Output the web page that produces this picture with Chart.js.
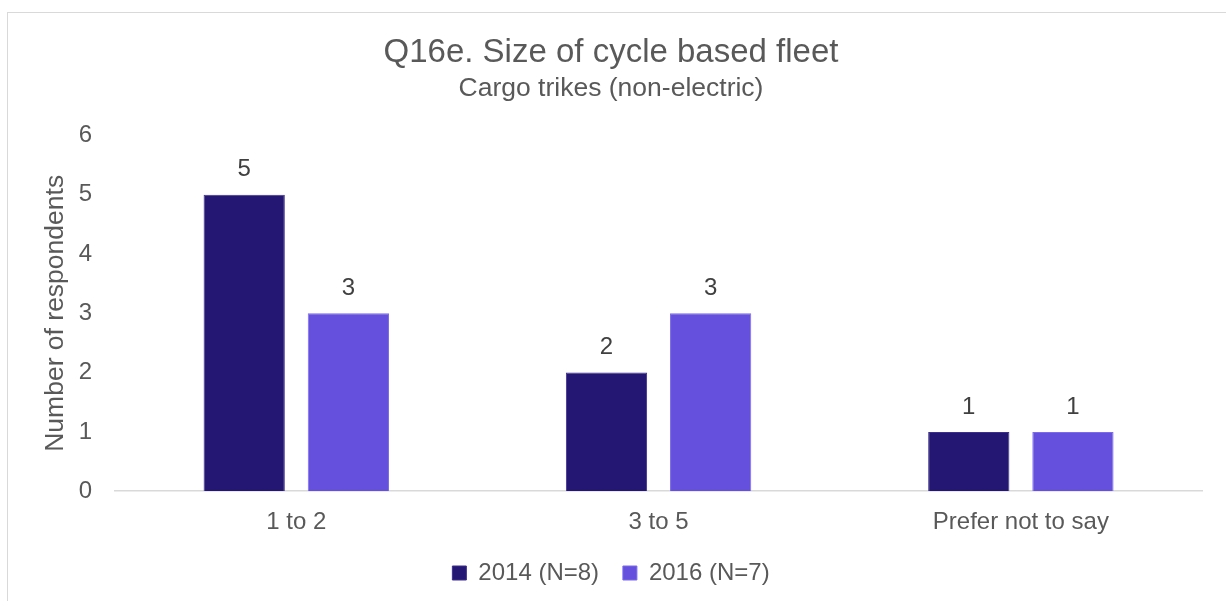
<!DOCTYPE html>
<html>
<head>
<meta charset="utf-8">
<script src="https://cdn.jsdelivr.net/npm/chart.js@4"></script>
<style>
  html, body { margin: 0; padding: 0; background: #fff; overflow: hidden; }
  #wrap { position: relative; width: 1226px; height: 601px; }
  #frame {
    position: absolute; left: 7px; top: 12px; width: 1240px; height: 620px;
    border: 1.5px solid #d9d9d9; box-sizing: border-box; pointer-events: none;
  }
</style>
</head>
<body>
<div id="wrap">
  <canvas id="barChart" width="1226" height="601"></canvas>
  <div id="frame"></div>
</div>
<script>
const categories = ["1 to 2", "3 to 5", "Prefer not to say"];
const seriesNames = ["2014 (N=8)", "2016 (N=7)"];
const values2014 = [5, 2, 1];
const values2016 = [3, 3, 1];
const yTicks = [0, 1, 2, 3, 4, 5, 6];

const FONT = "'Liberation Sans', Arial, Helvetica, sans-serif";
const TEXT = "#595959";

// draws the value above each bar
const valueLabels = {
  id: "valueLabels",
  afterDatasetsDraw(chart) {
    const ctx = chart.ctx;
    ctx.save();
    ctx.font = "24px " + FONT;
    ctx.fillStyle = "#404040";
    ctx.textAlign = "center";
    ctx.textBaseline = "middle";
    chart.data.datasets.forEach((ds, i) => {
      chart.getDatasetMeta(i).data.forEach((bar, j) => {
        ctx.fillText(ds.data[j], bar.x, bar.y - 25);
      });
    });
    ctx.restore();
  },
};

const createBarChart = () => {
  let canvasElement = document.getElementById("barChart");

  let config = {
    type: "bar",
    data: {
      labels: categories,
      datasets: [
        {
          label: seriesNames[0],
          data: values2014,
          backgroundColor: "#241773",
          borderColor: "#3d2f8f",
          borderWidth: 1,
        },
        {
          label: seriesNames[1],
          data: values2016,
          backgroundColor: "#6450dc",
          borderColor: "#7b6aee",
          borderWidth: 1,
        },
      ],
    },
    options: {
      responsive: false,
      animation: false,
      devicePixelRatio: 1,
      categoryPercentage: 0.575,
      barPercentage: 0.78,
      layout: { padding: { left: 20, right: 24, top: 22, bottom: 6 } },
      plugins: {
        title: {
          display: true,
          text: "Q16e. Size of cycle based fleet",
          color: TEXT,
          font: { family: FONT, size: 33, weight: "normal" },
          padding: { top: 11, bottom: 0 },
        },
        subtitle: {
          display: true,
          text: "Cargo trikes (non-electric)",
          color: TEXT,
          font: { family: FONT, size: 26.5, weight: "normal" },
          padding: { top: 0, bottom: 31 },
        },
        legend: {
          position: "bottom",
          labels: {
            color: TEXT,
            font: { family: FONT, size: 24 },
            boxWidth: 14,
            boxHeight: 14,
            padding: 7,
            // small padding keeps the legend tight vertically, so widen the gap between items
            generateLabels: (chart) => {
              const items = Chart.defaults.plugins.legend.labels.generateLabels(chart);
              items[0].text += "\u2002\u2009";
              return items;
            },
          },
        },
        tooltip: { enabled: false },
      },
      scales: {
        x: {
          grid: { display: false, drawTicks: false },
          border: { display: true, color: "#d9d9d9", width: 1.5 },
          ticks: {
            color: TEXT,
            font: { family: FONT, size: 24 },
            padding: 17,
          },
        },
        y: {
          min: 0,
          max: 6,
          afterBuildTicks: (axis) => {
            axis.ticks = yTicks.map((v) => ({ value: v }));
          },
          grid: { display: false, drawTicks: false },
          border: { display: false },
          ticks: {
            color: TEXT,
            font: { family: FONT, size: 24 },
            padding: 23,
          },
          title: {
            display: true,
            text: "Number of respondents",
            color: TEXT,
            font: { family: FONT, size: 26.5 },
            padding: { top: 20, bottom: -16 },
          },
        },
      },
    },
    plugins: [valueLabels],
  };
  return new Chart(canvasElement, config);
};

let barChart = createBarChart();
</script>
</body>
</html>
